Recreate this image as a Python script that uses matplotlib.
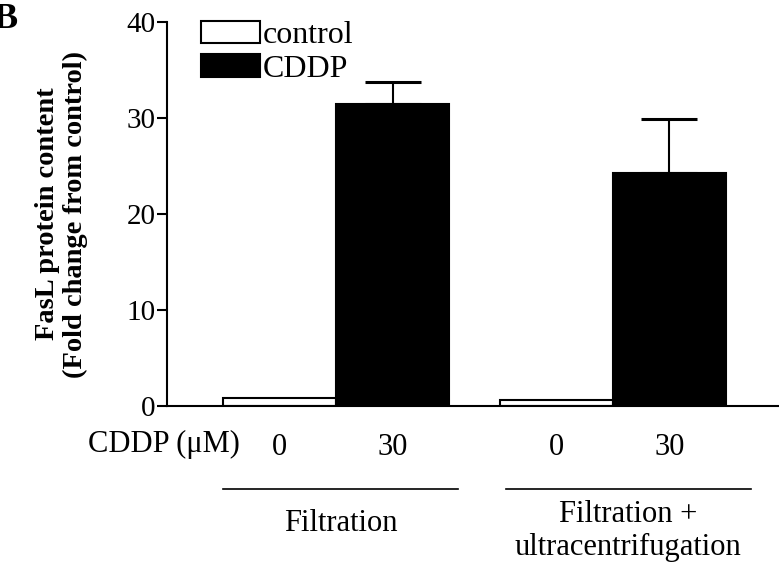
import numpy as np
import matplotlib
matplotlib.use('Agg')
import matplotlib.pyplot as plt
from matplotlib.transforms import blended_transform_factory

# data
groups = ['Filtration', 'Filtration +\nultracentrifugation']
dose_labels = ['0', '30']
control_vals = [0.9, 0.6]
cddp_vals = [31.4, 24.3]
cddp_err_up = [2.3, 5.6]
y_ticks = [0, 10, 20, 30, 40]

plt.rcParams['font.family'] = ['Liberation Serif', 'DejaVu Serif']

fig = plt.figure(figsize=(7.79, 5.73), dpi=100)
ax = fig.add_axes([0.214, 0.291, 0.786, 0.671])

width = 1.0
group_centers = np.array([1.5, 3.95])
ctrl_x = group_centers - width / 2
cddp_x = group_centers + width / 2

ax.bar(ctrl_x, control_vals, width, color='white', edgecolor='black',
       linewidth=1.5, label='control')
ax.bar(cddp_x, cddp_vals, width, color='black', edgecolor='black',
       linewidth=1.5, label='CDDP')
ax.errorbar(cddp_x, cddp_vals, yerr=[np.zeros(len(cddp_vals)), cddp_err_up],
            fmt='none', ecolor='black', elinewidth=1.5, capsize=20,
            capthick=2.2)

ax.set_xlim(0, 5.42)
ax.set_ylim(0, 40)
ax.set_yticks(y_ticks)
ax.tick_params(axis='y', direction='out', length=7, width=1.5,
               labelsize=21, pad=1)
ax.spines['top'].set_visible(False)
ax.spines['right'].set_visible(False)
ax.spines['left'].set_linewidth(1.5)
ax.spines['bottom'].set_linewidth(1.5)
ax.spines['left'].set_bounds(0, 40)

# dose labels under each bar
ax.set_xticks(np.concatenate([ctrl_x, cddp_x]))
ax.set_xticklabels(dose_labels[:1] * 2 + dose_labels[1:] * 2, fontsize=22)
ax.tick_params(axis='x', length=0, pad=19)

trans = blended_transform_factory(ax.transData, ax.transAxes)
ax.text(0.65, -0.1, 'CDDP (μM)', transform=trans, fontsize=22,
        ha='right', va='center', clip_on=False)

# group underlines and names
line_left = [-1.0, -0.95]
line_right = [1.08, 1.22]
for gc, name, l, r in zip(group_centers, groups, line_left, line_right):
    ax.plot([gc + l, gc + r], [-0.214, -0.214], color='black', lw=1.2,
            transform=trans, clip_on=False)
    n_lines = name.count('\n') + 1
    ax.text(gc + (l + r) / 2, -0.305 if n_lines == 1 else -0.325, name,
            transform=trans, fontsize=22, ha='center', va='center',
            linespacing=1.2, clip_on=False)

ax.set_ylabel('FasL protein content\n(Fold change from control)',
              fontsize=20.5, fontweight='bold', labelpad=28, linespacing=1.15)

leg = ax.legend(loc='upper left', bbox_to_anchor=(0.035, 1.035), frameon=False,
                fontsize=23, handlelength=1.85, handleheight=0.7,
                handletextpad=0.1, labelspacing=0.12, borderaxespad=0)

fig.text(-0.008, 0.995, 'B', fontsize=26, fontweight='bold', va='top')

fig.savefig('out.png', dpi=100)
